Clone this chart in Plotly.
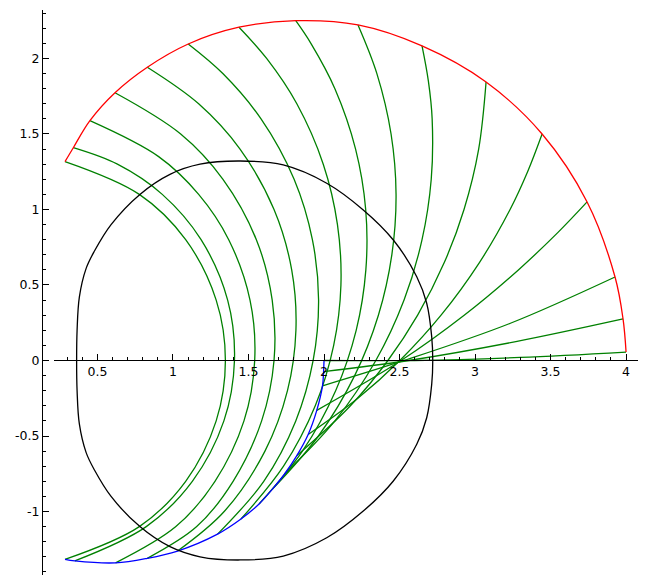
import plotly.graph_objects as go

# green curves, points read along each one from its blue end to its red end
green_x = [
    [0.285, 0.777, 1.084, 1.286, 1.347, 1.286, 1.084, 0.777, 0.285],
    [0.35, 0.823, 1.128, 1.337, 1.407, 1.362, 1.186, 0.929, 0.632, 0.340],
    [0.62, 1.019, 1.278, 1.470, 1.541, 1.510, 1.369, 1.170, 0.905, 0.450],
    [0.83, 1.157, 1.398, 1.587, 1.669, 1.657, 1.552, 1.331, 1.051, 0.616],
    [1.03, 1.339, 1.609, 1.758, 1.814, 1.786, 1.669, 1.444, 1.170, 0.830],
    [1.295, 1.601, 1.813, 1.928, 1.964, 1.923, 1.802, 1.583, 1.330, 1.101],
    [1.45, 1.732, 1.942, 2.064, 2.112, 2.089, 1.995, 1.820, 1.620, 1.437],
    [1.57, 1.857, 2.077, 2.213, 2.277, 2.276, 2.209, 2.072, 1.913, 1.813],
    [1.66, 1.963, 2.203, 2.360, 2.449, 2.477, 2.444, 2.350, 2.225],
    [1.74, 2.072, 2.343, 2.530, 2.649, 2.710, 2.716, 2.691, 2.649],
    [1.82, 2.175, 2.423, 2.620, 2.797, 2.927, 3.024, 3.073],
    [1.895, 2.224, 2.502, 2.775, 3.030, 3.232, 3.348, 3.444],
    [1.952, 2.51, 2.928, 3.287, 3.551, 3.742],
    [1.99, 2.53, 3.23, 3.927],
    [1.997, 2.56, 3.27, 3.980],
    [2.0, 2.6, 3.3, 4.0],
]
green_y = [
    [-1.317, -1.1, -0.8, -0.4, 0.0, 0.4, 0.8, 1.1, 1.317],
    [-1.327, -1.1, -0.8, -0.4, 0.0, 0.4, 0.8, 1.1, 1.3, 1.409],
    [-1.34, -1.1, -0.8, -0.4, 0.0, 0.4, 0.8, 1.1, 1.35, 1.588],
    [-1.31, -1.1, -0.8, -0.4, 0.0, 0.4, 0.8, 1.2, 1.5, 1.773],
    [-1.262, -1.0, -0.6, -0.2, 0.2, 0.6, 1.0, 1.4, 1.7, 1.942],
    [-1.15, -0.8, -0.4, 0.0, 0.4, 0.8, 1.2, 1.6, 1.9, 2.096],
    [-1.05, -0.7, -0.3, 0.1, 0.5, 0.9, 1.3, 1.7, 2.0, 2.207],
    [-0.95, -0.6, -0.2, 0.2, 0.6, 1.0, 1.4, 1.8, 2.1, 2.250],
    [-0.85, -0.5, -0.1, 0.3, 0.7, 1.1, 1.5, 1.9, 2.222],
    [-0.75, -0.4, 0.0, 0.4, 0.8, 1.2, 1.6, 1.85, 2.083],
    [-0.63, -0.3, 0.0, 0.3, 0.65, 1.0, 1.4, 1.844],
    [-0.49, -0.25, 0.0, 0.3, 0.65, 1.0, 1.25, 1.500],
    [-0.33, 0.0, 0.3, 0.6, 0.85, 1.050],
    [-0.168, 0.0, 0.245, 0.553],
    [-0.074, 0.0, 0.125, 0.275],
    [0.0, 0.0, 0.02, 0.056],
]

# closed black curve, counter-clockwise from its right end
black_x = [2.72, 2.713, 2.68, 2.614, 2.459, 2.26, 2.018, 1.73, 1.444, 1.179, 0.98,
           0.781, 0.59, 0.48, 0.425, 0.38, 0.365, 0.362, 0.365, 0.38, 0.425,
           0.48, 0.59, 0.781, 0.98, 1.179, 1.444, 1.73, 2.018, 2.26, 2.459,
           2.614, 2.68, 2.713, 2.72]
black_y = [0.0, 0.158, 0.379, 0.555, 0.798, 0.997, 1.174, 1.295, 1.321, 1.30, 1.233,
           1.10, 0.90, 0.725, 0.61, 0.42, 0.2, 0.0, -0.2, -0.42, -0.61,
           -0.725, -0.90, -1.10, -1.233, -1.30, -1.321, -1.295, -1.174, -0.997, -0.798,
           -0.555, -0.379, -0.158, 0.0]

x_ticks = [0.5, 1, 1.5, 2, 2.5, 3, 3.5, 4]
y_ticks = [-1, -0.5, 0, 0.5, 1, 1.5, 2]

# the red curve joins the upper ends of the green ones, the blue curve their lower ends
red_x = [g[-1] for g in green_x]
red_y = [g[-1] for g in green_y]
blue_x = [g[0] for g in green_x]
blue_y = [g[0] for g in green_y]

fig = go.Figure()
for gx, gy in zip(green_x, green_y):
    fig.add_trace(go.Scatter(x=gx, y=gy, mode='lines',
                             line=dict(color='#008000', width=1.3, shape='spline')))
fig.add_trace(go.Scatter(x=blue_x, y=blue_y, mode='lines',
                         line=dict(color='#0000ff', width=1.3, shape='spline')))
fig.add_trace(go.Scatter(x=red_x, y=red_y, mode='lines',
                         line=dict(color='#ff0000', width=1.3, shape='spline')))
fig.add_trace(go.Scatter(x=black_x, y=black_y, mode='lines',
                         line=dict(color='#000000', width=1.3, shape='spline')))

ymin, ymax = -1.4205, 2.321
font = dict(family='DejaVu Sans', size=12.5, color='black')

fig.update_layout(
    width=646, height=584,
    margin=dict(l=42, r=8, t=10, b=9, pad=0),
    plot_bgcolor='white', paper_bgcolor='white',
    showlegend=False,
    xaxis=dict(range=[0.212, 4.079], domain=[0.0201, 1], anchor='free',
               position=(0 - ymin) / (ymax - ymin), automargin=False,
               showline=True, linecolor='black', linewidth=1,
               ticks='inside', ticklen=6, tickwidth=1, tickcolor='black',
               tickvals=x_ticks, ticktext=[f'{v:g}' for v in x_ticks],
               minor=dict(ticks='inside', ticklen=3, tickcolor='black', dtick=0.1, tick0=0),
               showgrid=False, zeroline=False, tickfont=font),
    yaxis=dict(range=[ymin, ymax], domain=[0, 1], anchor='free', position=0,
               automargin=False,
               showline=True, linecolor='black', linewidth=1,
               ticks='inside', ticklen=6, tickwidth=1, tickcolor='black',
               tickvals=y_ticks, ticktext=[f'{v:g}' for v in y_ticks],
               minor=dict(ticks='inside', ticklen=3, tickcolor='black', dtick=0.1, tick0=0),
               showgrid=False, zeroline=False, tickfont=font),
)

# drop the browser's default page margin so the figure sits at the window's corner
fig.write_html("out.html", config={'displayModeBar': False},
               post_script="document.body.style.margin = '0';")
